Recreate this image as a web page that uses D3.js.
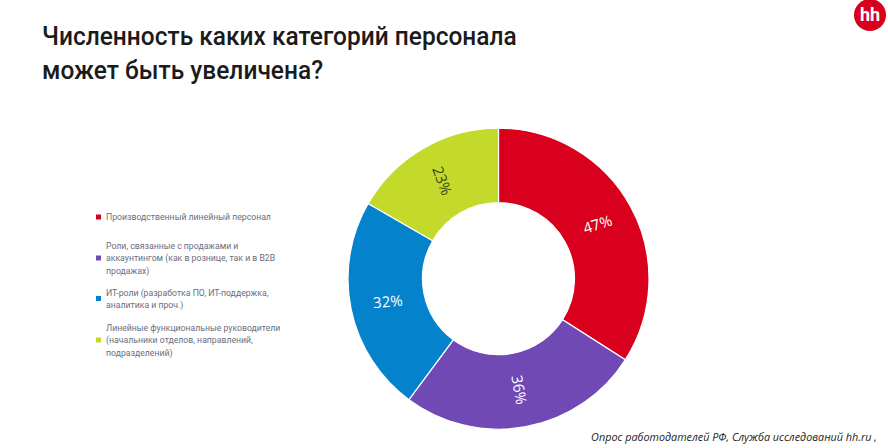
<!DOCTYPE html>
<html><head><meta charset="utf-8">
<script src="https://cdn.jsdelivr.net/npm/d3@7"></script>
<style>html,body{margin:0;padding:0;background:#fff}svg{display:block}</style>
</head><body><svg id="c" width="888" height="448"></svg>
<script>
const titleLines = ["Численность каких категорий персонала", "может быть увеличена?"];
const categories = ["Производственный линейный персонал", "Роли, связанные с продажами и аккаунтингом", "ИТ-роли", "Линейные функциональные руководители"];
const values = [47, 36, 32, 23];
const legendLines = [
  ["Производственный линейный персонал"],
  ["Роли, связанные с продажами и", "аккаунтингом (как в рознице, так и в B2B", "продажах)"],
  ["ИТ-роли (разработка ПО, ИТ-поддержка,", "аналитика и проч.)"],
  ["Линейные функциональные руководители", "(начальники отделов, направлений,", "подразделений)"]
];
const source = "Опрос работодателей РФ, Служба исследований hh.ru ,";

const colors = ["#d9001e", "#7049b5", "#0482cb", "#c3da2a"];
const labelColors = ["#fff", "#fff", "#fff", "#3b4a1a"];
const labelTilt = [-18, 80, -5, 70];
const legendCenterY = [217, 258, 298.5, 340];
const legendLeading = 12.3;

const svg = d3.select("#c");
const font = "Roboto, sans-serif";

svg.append("g").attr("transform", "translate(42,0) scale(0.925,1)")
  .selectAll("text").data(titleLines).join("text")
  .attr("x", 0).attr("y", (d, i) => 45 + i * 34.5)
  .attr("font-family", font).attr("font-weight", 500).attr("font-size", 26.5).attr("fill", "#1b1b1b")
  .text(d => d);

const g = svg.append("g").attr("transform", "translate(498.5,278.7)");
const pie = d3.pie().sort(null)(values);
const arc = d3.arc().innerRadius(76).outerRadius(150.5);
const labelArc = d3.arc().innerRadius(113).outerRadius(113);
g.selectAll("path").data(pie).join("path")
  .attr("d", arc).attr("fill", (d, i) => colors[i])
  .attr("stroke", "#fff").attr("stroke-width", 1.2);
g.selectAll("text").data(pie).join("text")
  .attr("transform", (d, i) => `translate(${labelArc.centroid(d)}) rotate(${labelTilt[i]})`)
  .attr("text-anchor", "middle").attr("dy", "0.35em")
  .attr("font-family", "'Open Sans', sans-serif").attr("font-size", 15)
  .attr("fill", (d, i) => labelColors[i])
  .text(d => d.value + "%");

const legend = svg.append("g").selectAll("g").data(legendLines).join("g")
  .attr("transform", (d, i) => `translate(0,${legendCenterY[i]})`);
legend.append("rect").attr("x", 96).attr("y", -2.5).attr("width", 5).attr("height", 5)
  .attr("fill", (d, i) => colors[i]);
legend.selectAll("text").data(d => d.map((t, j) => ({ t, j, n: d.length }))).join("text")
  .attr("x", 106).attr("y", d => (d.j - (d.n - 1) / 2) * legendLeading + 3.2)
  .attr("font-family", font).attr("font-size", 8.7).attr("fill", "#6a6d80")
  .text(d => d.t);

svg.append("g").attr("transform", "translate(877,440.5) scale(0.94,1)")
  .append("text").attr("text-anchor", "end")
  .attr("font-family", "'Open Sans', sans-serif").attr("font-style", "italic").attr("font-size", 11.5).attr("fill", "#222")
  .text(source);

const logo = svg.append("g").attr("transform", "translate(870,15)");
logo.append("circle").attr("r", 16).attr("fill", "#d9001e");
logo.append("text").attr("text-anchor", "middle").attr("y", 6)
  .attr("font-family", font).attr("font-weight", 700).attr("font-size", 18).attr("fill", "#fff")
  .text("hh");
</script></body></html>
